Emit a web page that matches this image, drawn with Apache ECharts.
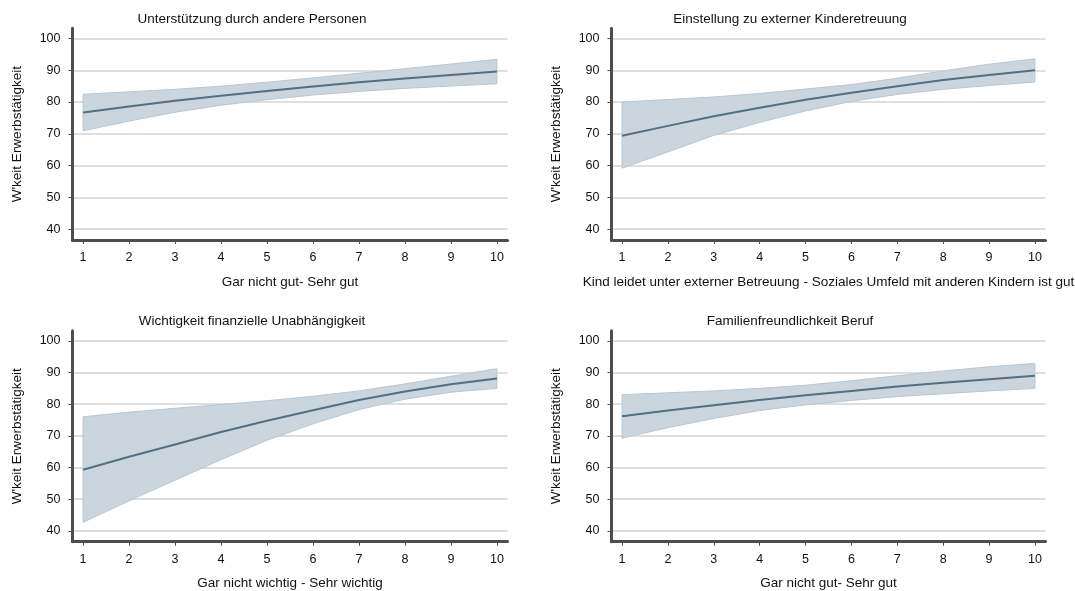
<!DOCTYPE html>
<html><head><meta charset="utf-8">
<script src="https://cdn.jsdelivr.net/npm/echarts@6/dist/echarts.min.js"></script>
<style>html,body{margin:0;padding:0;background:#fff}#c{width:1075px;height:591px}</style>
</head><body><div id="c"></div>
<script>
// ---- data ----
const xValues = [1, 2, 3, 4, 5, 6, 7, 8, 9, 10];
const xTicks = [1, 2, 3, 4, 5, 6, 7, 8, 9, 10];
const yTicks = [40, 50, 60, 70, 80, 90, 100];
const panelTitles = ["Unterstützung durch andere Personen", "Einstellung zu externer Kinderetreuung", "Wichtigkeit finanzielle Unabhängigkeit", "Familienfreundlichkeit Beruf"];
const xAxisTitles = ["Gar nicht gut- Sehr gut", "Kind leidet unter externer Betreuung - Soziales Umfeld mit anderen Kindern ist gut", "Gar nicht wichtig - Sehr wichtig", "Gar nicht gut- Sehr gut"];
const yAxisTitle = "W'keit Erwerbstätigkeit";

const est1 = [76.7, 78.6, 80.4, 82.0, 83.5, 84.9, 86.2, 87.4, 88.5, 89.6];
const upper1 = [82.45, 83.2, 84.0, 85.0, 86.25, 87.6, 89.05, 90.5, 91.95, 93.45];
const lower1 = [70.95, 74.0, 76.8, 79.0, 80.75, 82.2, 83.35, 84.3, 85.05, 85.75];

const est2 = [69.4, 72.5, 75.5, 78.2, 80.7, 82.9, 85.0, 86.9, 88.5, 90.0];
const upper2 = [80.0, 80.8, 81.6, 82.7, 84.1, 85.5, 87.5, 89.8, 91.9, 93.6];
const lower2 = [59.2, 64.3, 69.5, 73.6, 77.2, 80.2, 82.4, 84.0, 85.2, 86.3];

const est3 = [59.3, 63.4, 67.3, 71.2, 74.8, 78.1, 81.3, 84.0, 86.3, 88.1];
const upper3 = [76.0, 77.5, 78.7, 79.9, 81.1, 82.5, 84.2, 86.4, 88.8, 91.2];
const lower3 = [42.7, 49.5, 56.0, 62.5, 68.6, 73.8, 78.3, 81.6, 83.8, 85.0];

const est4 = [76.2, 78.0, 79.7, 81.3, 82.8, 84.2, 85.6, 86.8, 87.9, 89.0];
const upper4 = [83.0, 83.6, 84.2, 85.0, 86.0, 87.4, 89.0, 90.5, 91.8, 92.9];
const lower4 = [69.3, 72.6, 75.5, 78.0, 79.8, 81.2, 82.4, 83.3, 84.2, 85.0];

const ests = [est1, est2, est3, est4];
const uppers = [upper1, upper2, upper3, upper4];
const lowers = [lower1, lower2, lower3, lower4];

// ---- layout / style ----
const FONT = "'Liberation Sans', Arial, sans-serif";
const AXIS_COLOR = '#4d4d4d';
const grids = [
  {left: 72.5, top: 28.3, width: 435, height: 211.7},
  {left: 611.5, top: 28.3, width: 434, height: 211.7},
  {left: 72.5, top: 330.7, width: 435, height: 211},
  {left: 611.5, top: 330.7, width: 434, height: 211}
];
const titlePos = [
  {left: 252, top: 12}, {left: 790, top: 12},
  {left: 252, top: 314.5}, {left: 790, top: 314.5}
];

const option = {
  animation: false,
  backgroundColor: '#ffffff',
  textStyle: {fontFamily: FONT},
  title: panelTitles.map((t, i) => ({
    text: t, left: titlePos[i].left, top: titlePos[i].top, textAlign: 'center', padding: 0,
    textStyle: {fontSize: 13.5, fontWeight: 'normal', color: '#111', fontFamily: FONT}
  })),
  grid: grids.map(g => Object.assign({containLabel: false, outerBoundsMode: 'none'}, g)),
  xAxis: grids.map((g, i) => ({
    gridIndex: i, type: 'value', min: 0.77, max: 10.23,
    name: xAxisTitles[i], nameLocation: 'middle', nameGap: 35,
    nameTextStyle: {fontSize: 13.5, color: '#111', fontFamily: FONT},
    axisLine: {show: true, onZero: false, lineStyle: {color: AXIS_COLOR, width: 3}},
    axisTick: {show: true, customValues: xTicks, length: 4, lineStyle: {color: AXIS_COLOR, width: 1}},
    axisLabel: {customValues: xTicks, fontSize: 12.5, color: '#111', margin: 11, fontFamily: FONT},
    splitLine: {show: false}
  })),
  yAxis: grids.map((g, i) => ({
    gridIndex: i, type: 'value', min: 36.6, max: 103.2,
    name: yAxisTitle, nameLocation: 'middle', nameGap: 48.5, nameRotate: 90,
    nameTextStyle: {fontSize: 13.5, color: '#111', fontFamily: FONT},
    axisLine: {show: true, onZero: false, lineStyle: {color: AXIS_COLOR, width: 3}},
    axisTick: {show: true, customValues: yTicks, length: 4, lineStyle: {color: AXIS_COLOR, width: 1}},
    axisLabel: {customValues: yTicks, fontSize: 12.5, color: '#111', margin: 12, fontFamily: FONT},
    splitLine: {show: true, lineStyle: {color: '#d3d3d3', width: 1.5}}
  })),
  series: []
};

for (let i = 0; i < 4; i++) {
  const up = uppers[i], lo = lowers[i];
  option.series.push({
    type: 'custom', xAxisIndex: i, yAxisIndex: i, silent: true, z: 2,
    data: xValues.map((x, k) => [x, lo[k], up[k]]),
    encode: {x: 0, y: [1, 2]},
    renderItem: function (params, api) {
      if (params.dataIndex !== 0) return null;
      const pts = [];
      for (let k = 0; k < xValues.length; k++) pts.push(api.coord([xValues[k], up[k]]));
      for (let k = xValues.length - 1; k >= 0; k--) pts.push(api.coord([xValues[k], lo[k]]));
      return {type: 'polygon', shape: {points: pts}, style: {fill: '#cbd5dd', stroke: '#b9c7d1', lineWidth: 1}};
    }
  });
  option.series.push({
    type: 'line', xAxisIndex: i, yAxisIndex: i, z: 3, silent: true,
    data: xValues.map((x, k) => [x, ests[i][k]]),
    showSymbol: false, symbol: 'none',
    lineStyle: {color: '#527082', width: 2}
  });
}

const chart = echarts.init(document.getElementById('c'), null, {renderer: 'canvas'});
chart.setOption(option);
</script>
</body></html>
